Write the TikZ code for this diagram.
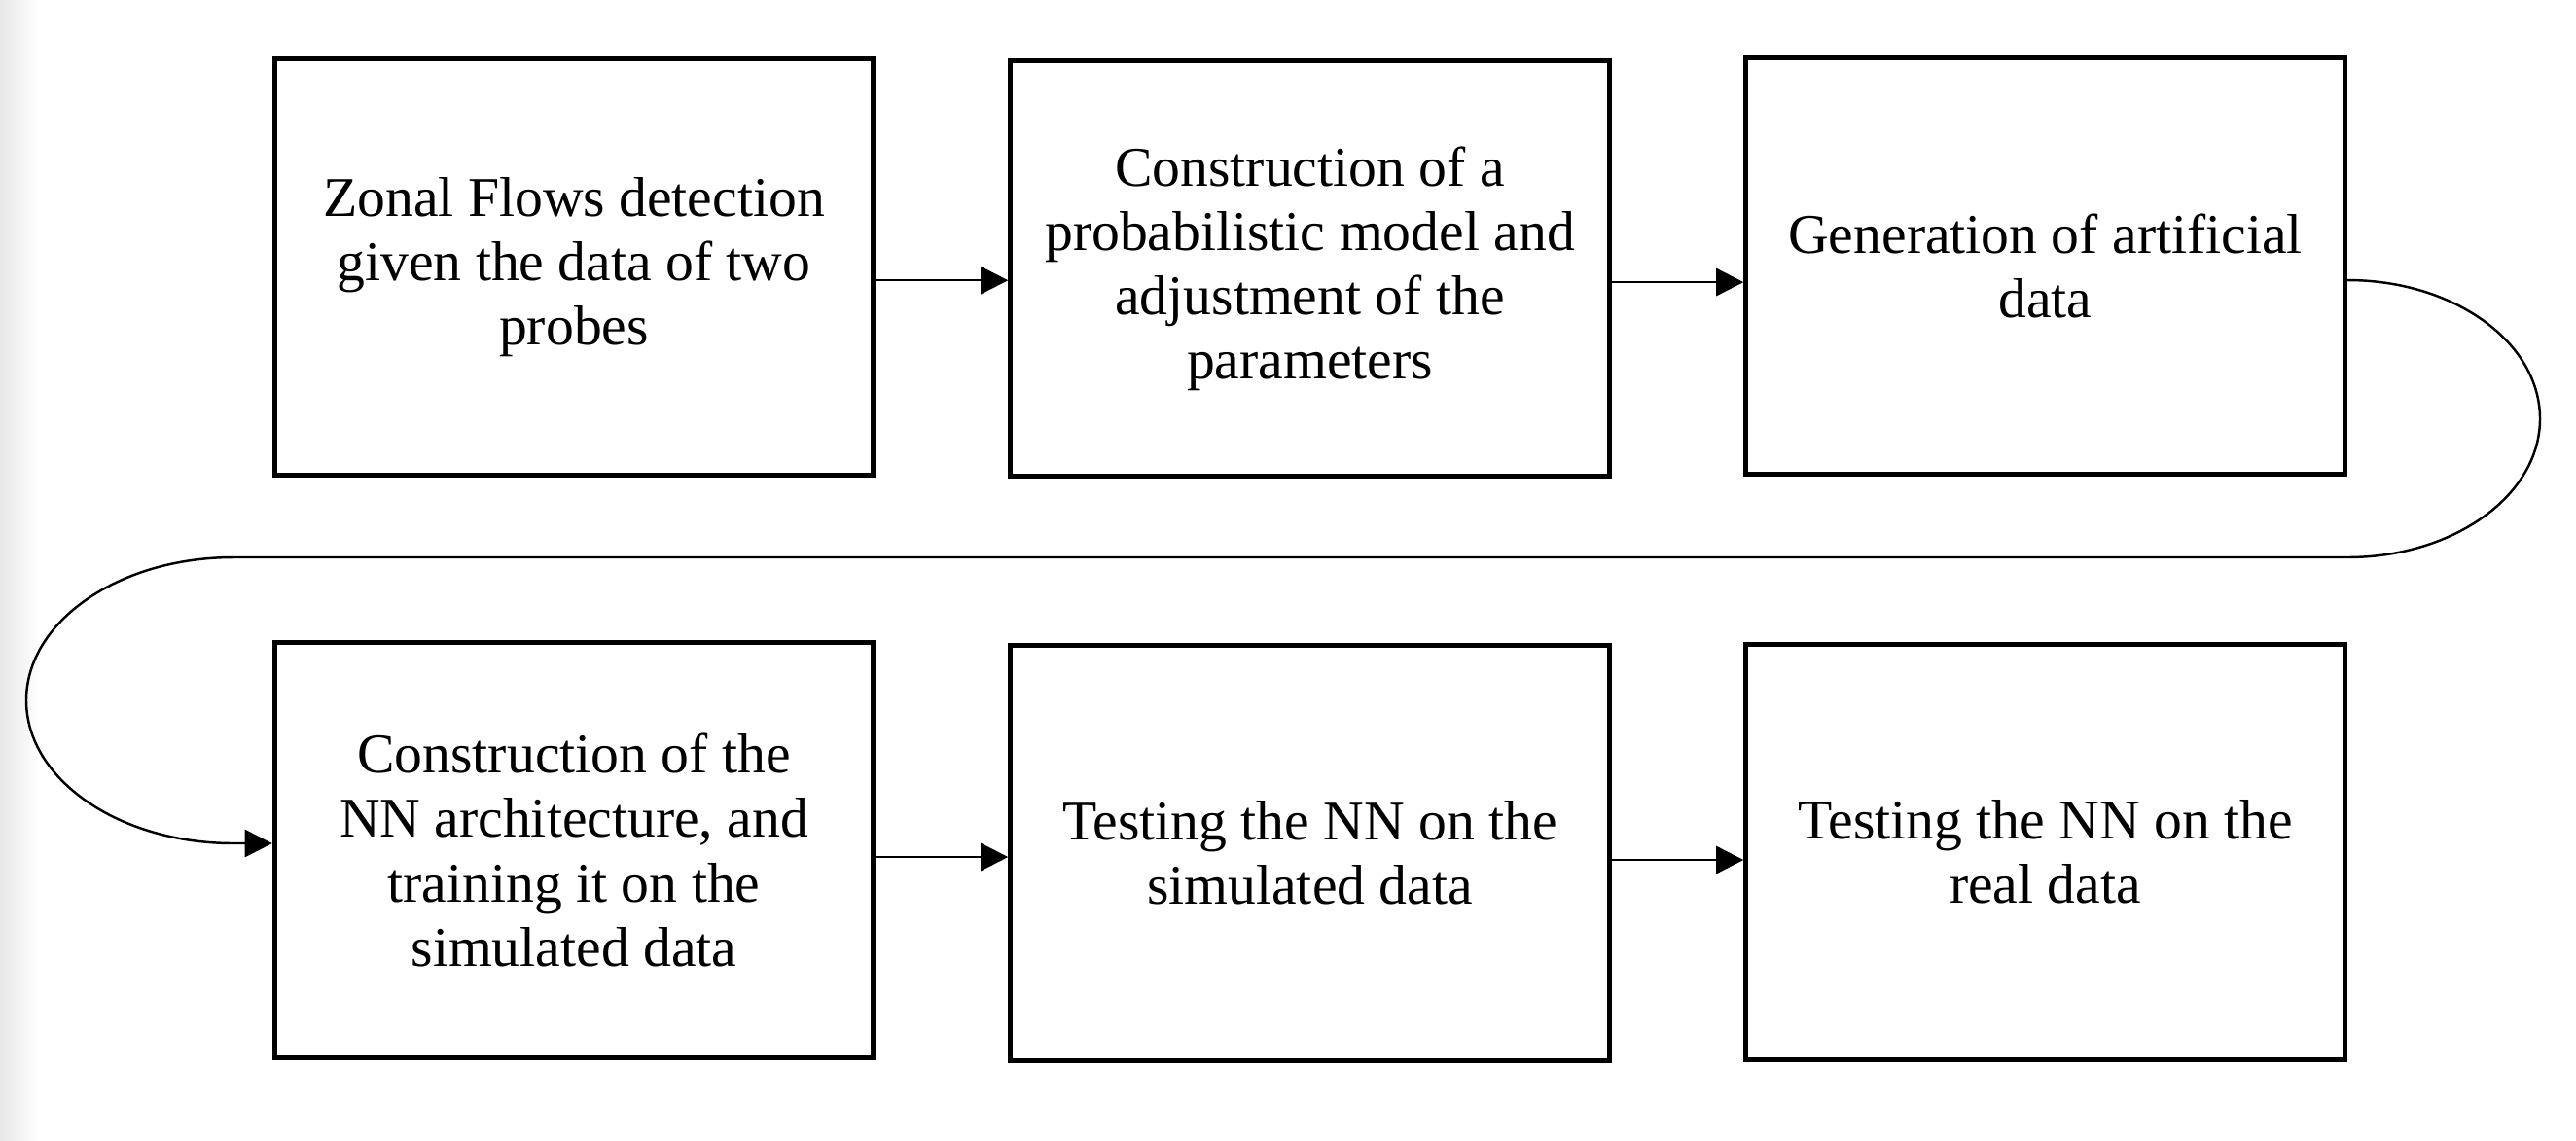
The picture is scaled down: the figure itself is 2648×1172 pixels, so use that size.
\documentclass[tikz,border=0pt]{standalone}
\usepackage{fontspec}
\setmainfont{Liberation Serif}
\usetikzlibrary{arrows.meta}
\begin{document}
\begin{tikzpicture}[x=0.01cm,y=-0.01cm,
  box/.style={draw=black, line width=0.05cm, minimum width=6.15cm, minimum height=4.27cm,
    inner sep=0pt, align=center, font=\fontsize{16.4}{18.8}\selectfont},
  arr/.style={draw=black, line width=0.7pt, -{Triangle[length=8pt,width=8pt]}}]
\useasboundingbox (0,0) rectangle (2648,1172);
\shade[left color=black!9, right color=white] (0,0) rectangle (42,1172);
\node[box] (b1) at (590,274.5) {Zonal Flows detection\\given the data of two\\probes};
\node[box] (b2) at (1346.5,276) {Construction of a\\probabilistic model and\\adjustment of the\\parameters};
\node[box] (b3) at (2102.5,273.5) {Generation of artificial\\data};
\node[box] (b4) at (590,874) {Construction of the\\NN architecture, and\\training it on the\\simulated data};
\node[box] (b5) at (1346.5,877) {Testing the NN on the\\simulated data};
\node[box] (b6) at (2102.5,876) {Testing the NN on the\\real data};
\draw[arr] ([yshift=-3.9pt]b1.east) -- ([yshift=-3.9pt]b1.east -| b2.west);
\draw[arr] ([yshift=-4pt]b2.east) -- ([yshift=-4pt]b2.east -| b3.west);
\draw[arr] ([yshift=-2pt]b4.east) -- ([yshift=-2pt]b4.east -| b5.west);
\draw[arr] ([yshift=-2pt]b5.east) -- ([yshift=-2pt]b5.east -| b6.west);
\coordinate (s) at (2413,288);
\coordinate (r) at (2611,430.5);
\coordinate (m1) at (2413,573);
\coordinate (m2) at (240,573);
\coordinate (l) at (27,720);
\coordinate (e) at (240,867);
\draw[arr] (s) .. controls (2522.4,288) and (2611,351.8) .. (r)
  .. controls (2611,509.2) and (2522.4,573) .. (m1) -- (m2)
  .. controls (122.4,573) and (27,638.8) .. (l)
  .. controls (27,801.2) and (122.4,867) .. (e) -- (e -| b4.west);
\end{tikzpicture}
\end{document}
